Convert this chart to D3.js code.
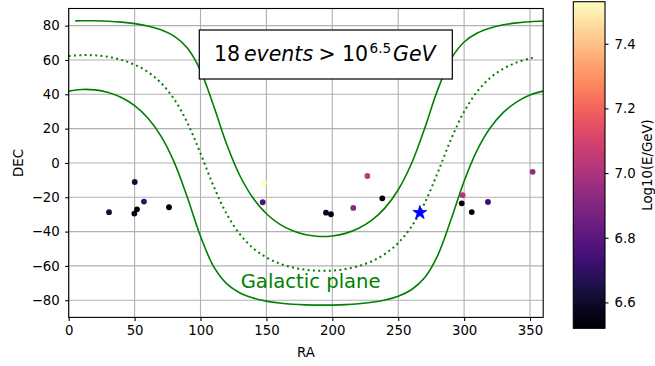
<!DOCTYPE html>
<html>
<head>
<meta charset="utf-8">
<script src="https://cdn.jsdelivr.net/npm/d3@7"></script>
<style>
  body { margin: 0; background: #fff; }
  svg { display: block; font-family: "DejaVu Sans", sans-serif; }
</style>
</head>
<body>
<svg id="chart" width="655" height="366"></svg>
<script>
// Galactic plane (b = 0) and b = +/-20 deg, RA in degrees
const gridRA = [0, 10, 20, 30, 40, 50, 60, 70, 80, 90, 100, 110, 120, 130, 140, 150, 160, 170, 180,
  190, 200, 210, 220, 230, 240, 250, 260, 270, 280, 290, 300, 310, 320, 330, 340, 350, 360];
const planeDEC = [62.27, 62.84, 62.69, 61.80, 60.07, 57.28, 53.01, 46.63, 37.17, 23.48, 5.56, -13.64,
  -29.91, -41.67, -49.66, -55.05, -58.61, -60.92, -62.27, -62.84, -62.69, -61.80, -60.07, -57.28,
  -53.01, -46.63, -37.17, -23.48, -5.56, 13.64, 29.91, 41.67, 49.66, 55.05, 58.61, 60.92, 61.50];
const upperDEC = [82.80, 82.86, 82.82, 82.56, 82.05, 81.20, 79.84, 77.63, 73.87, 66.95, 53.85, 33.16,
  10.64, -7.60, -20.62, -29.60, -35.62, -39.54, -41.85, -42.82, -42.56, -41.04, -38.09, -33.36,
  -26.18, -15.63, -0.47, 19.99, 42.73, 60.44, 70.46, 75.74, 78.70, 80.50, 81.60, 82.30, 82.69];
const lowerDEC = [41.85, 42.82, 42.56, 41.04, 38.09, 33.36, 26.18, 15.63, 0.47, -19.99, -42.73, -60.44,
  -70.46, -75.74, -78.70, -80.50, -81.60, -82.30, -82.69, -82.86, -82.82, -82.56, -82.05, -81.20,
  -79.84, -77.63, -73.87, -66.95, -53.85, -33.16, -10.64, 7.60, 20.62, 29.60, 35.62, 39.54, 41.85];
// the sampled curves don't quite reach the edges
const upperRA = [5].concat(gridRA.slice(1));
const planeRA = gridRA.slice(0, -1).concat([354.5]);

// events
const evRA = [30.6, 50.1, 57.1, 49.8, 51.8, 76.1, 148.2, 147.2, 195.2, 199.0, 215.9, 226.6, 237.9,
  298.9, 298.2, 305.8, 318.1, 352.0];
const evDEC = [-28.7, -11.1, -22.5, -29.5, -27.0, -25.8, -11.5, -22.9, -29.0, -29.9, -26.2, -7.6, -20.6,
  -18.8, -23.5, -28.6, -22.7, -5.2];
const evLogE = [6.63, 6.62, 6.69, 6.57, 6.52, 6.52, 7.53, 6.77, 6.59, 6.57, 6.92, 7.05, 6.52,
  7.02, 6.52, 6.52, 6.72, 6.95];

// galactic center
const gcRA = [266.4];
const gcDEC = [-29.0];

const xTicks = [0, 50, 100, 150, 200, 250, 300, 350];
const yTicks = [-80, -60, -40, -20, 0, 20, 40, 60, 80];
const cbTicks = [6.6, 6.8, 7.0, 7.2, 7.4];

const svg = d3.select('#chart');
const plot = { left: 68.7, right: 543.2, top: 8.5, bottom: 317.4 };
const cb = { left: 573.3, right: 605, top: 1.7, bottom: 328.3 };
const fs = 13.3;

const x = d3.scaleLinear().domain([0, 360]).range([plot.left, plot.right]);
const y = d3.scaleLinear().domain([-90, 90]).range([plot.bottom, plot.top]);
const cExtent = d3.extent(evLogE);
const color = d3.scaleSequential(d3.interpolateMagma).domain(cExtent);
const fmtMinus = d => d3.format('')(d).replace('-', '\u2212');

// grid
const grid = svg.append('g').attr('stroke', '#b0b0b0').attr('stroke-width', 1.1);
grid.selectAll('line.gx').data(xTicks).enter().append('line')
  .attr('x1', d => x(d)).attr('x2', d => x(d))
  .attr('y1', plot.top).attr('y2', plot.bottom);
grid.selectAll('line.gy').data(yTicks).enter().append('line')
  .attr('y1', d => y(d)).attr('y2', d => y(d))
  .attr('x1', plot.left).attr('x2', plot.right);

// clip
svg.append('clipPath').attr('id', 'clip').append('rect')
  .attr('x', plot.left).attr('y', plot.top)
  .attr('width', plot.right - plot.left).attr('height', plot.bottom - plot.top);

const curves = svg.append('g').attr('clip-path', 'url(#clip)');
const line = d3.line()
  .x(d => x(d[0])).y(d => y(d[1]))
  .curve(d3.curveCatmullRom.alpha(0.5));

curves.append('path')
  .attr('d', line(d3.zip(upperRA, upperDEC)))
  .attr('fill', 'none').attr('stroke', 'green').attr('stroke-width', 1.6);
curves.append('path')
  .attr('d', line(d3.zip(gridRA, lowerDEC)))
  .attr('fill', 'none').attr('stroke', 'green').attr('stroke-width', 1.6);
curves.append('path')
  .attr('d', line(d3.zip(planeRA, planeDEC)))
  .attr('fill', 'none').attr('stroke', 'green').attr('stroke-width', 2)
  .attr('stroke-dasharray', '2,3.3');

// events
svg.append('g').selectAll('circle')
  .data(d3.zip(evRA, evDEC, evLogE))
  .enter().append('circle')
  .attr('cx', d => x(d[0])).attr('cy', d => y(d[1]))
  .attr('r', 2.9)
  .attr('fill', d => color(d[2]));

// galactic center star
const star = d3.symbol().type(d3.symbolStar).size(61);
svg.append('g').selectAll('path')
  .data(d3.zip(gcRA, gcDEC))
  .enter().append('path')
  .attr('d', star)
  .attr('transform', d => `translate(${x(d[0])},${y(d[1])})`)
  .attr('fill', 'blue').attr('stroke', 'blue').attr('stroke-width', 0.8);

// axes
const xAxis = svg.append('g')
  .attr('transform', `translate(0,${plot.bottom})`)
  .call(d3.axisBottom(x).tickValues(xTicks).tickSize(3.5).tickPadding(5).tickSizeOuter(0).tickFormat(fmtMinus));
const yAxis = svg.append('g')
  .attr('transform', `translate(${plot.left},0)`)
  .call(d3.axisLeft(y).tickValues(yTicks).tickSize(3.5).tickPadding(5.5).tickSizeOuter(0).tickFormat(fmtMinus));
[xAxis, yAxis].forEach(a => {
  a.select('.domain').remove();
  a.selectAll('text').attr('font-size', fs).attr('font-family', 'DejaVu Sans').attr('fill', '#000');
  a.selectAll('line').attr('stroke', '#000').attr('stroke-width', 1.1);
});

svg.append('rect')
  .attr('x', plot.left).attr('y', plot.top)
  .attr('width', plot.right - plot.left).attr('height', plot.bottom - plot.top)
  .attr('fill', 'none').attr('stroke', '#000').attr('stroke-width', 1.1);

svg.append('text')
  .attr('x', (plot.left + plot.right) / 2).attr('y', 356.5)
  .attr('text-anchor', 'middle').attr('font-size', fs)
  .text('RA');
svg.append('text')
  .attr('transform', `translate(22.5,${(plot.top + plot.bottom) / 2}) rotate(-90)`)
  .attr('text-anchor', 'middle').attr('font-size', fs)
  .text('DEC');

// label in the plane
svg.append('text')
  .attr('x', 240.7).attr('y', 288.3)
  .attr('font-size', 19.6).attr('fill', 'green')
  .text('Galactic plane');

// title box
svg.append('rect')
  .attr('x', 199.3).attr('y', 30).attr('width', 253).attr('height', 49)
  .attr('fill', '#fff').attr('stroke', '#000').attr('stroke-width', 1.2);
const title = svg.append('text').attr('y', 60.7).attr('font-size', 20.5);
title.append('tspan').attr('x', 214).text('18');
title.append('tspan').attr('x', 244).attr('font-style', 'italic').text('events');
title.append('tspan').attr('x', 318.5).text('>');
title.append('tspan').attr('x', 342).text('10');
title.append('tspan').attr('x', 369.5).attr('y', 52.7).attr('font-size', 13.6).text('6.5');
title.append('tspan').attr('x', 393).attr('y', 60.7).attr('font-style', 'italic').text('GeV');

// colorbar
const cbScale = d3.scaleLinear().domain(cExtent).range([cb.bottom, cb.top]);
const grad = svg.append('defs').append('linearGradient')
  .attr('id', 'magma').attr('x1', 0).attr('x2', 0).attr('y1', 1).attr('y2', 0);
d3.range(0, 1.0001, 0.05).forEach(t => {
  grad.append('stop').attr('offset', t).attr('stop-color', d3.interpolateMagma(t));
});
svg.append('rect')
  .attr('x', cb.left).attr('y', cb.top)
  .attr('width', cb.right - cb.left).attr('height', cb.bottom - cb.top)
  .attr('fill', 'url(#magma)').attr('stroke', '#000').attr('stroke-width', 1.1);
const cAxis = svg.append('g')
  .attr('transform', `translate(${cb.right},0)`)
  .call(d3.axisRight(cbScale).tickValues(cbTicks).tickSize(3.5).tickPadding(6).tickSizeOuter(0).tickFormat(d3.format('.1f')));
cAxis.select('.domain').remove();
cAxis.selectAll('text').attr('font-size', fs).attr('font-family', 'DejaVu Sans').attr('fill', '#000');
cAxis.selectAll('line').attr('stroke', '#000').attr('stroke-width', 1.1);

svg.append('text')
  .attr('transform', `translate(651.5,${(cb.top + cb.bottom) / 2}) rotate(-90)`)
  .attr('text-anchor', 'middle').attr('font-size', fs)
  .text('Log10(E/GeV)');
</script>
</body>
</html>
